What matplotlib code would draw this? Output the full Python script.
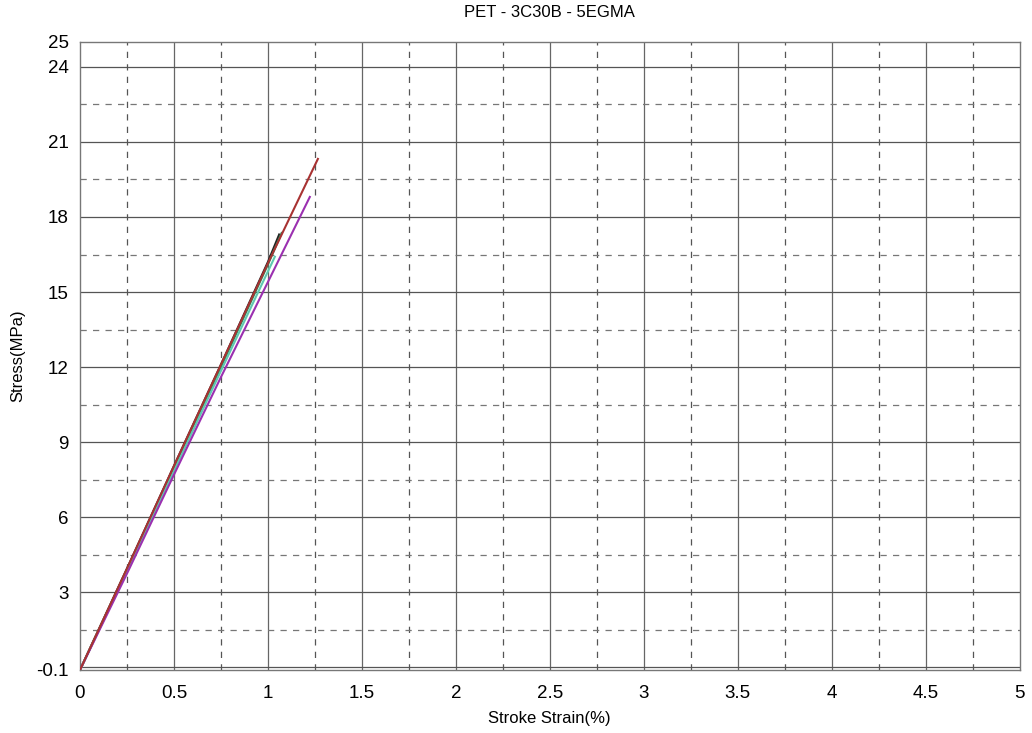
import numpy as np
import matplotlib
matplotlib.use("Agg")
import matplotlib.pyplot as plt

plt.rcParams['font.family'] = ['Liberation Sans', 'DejaVu Sans']

# strain (%) / stress (MPa) for each specimen
strain_rojo = [0.0, 0.25, 0.5, 0.75, 1.0, 1.266]
stress_rojo = [-0.1, 3.95, 8.05, 12.1, 16.15, 20.32]

strain_morado = [0.0, 0.25, 0.5, 0.75, 1.0, 1.223]
stress_morado = [-0.1, 3.75, 7.7, 11.6, 15.4, 18.8]

strain_verde = [0.0, 0.25, 0.5, 0.75, 1.0, 1.073]
stress_verde = [-0.1, 3.9, 8.0, 12.0, 16.1, 17.36]

strain_turquesa = [0.0, 0.25, 0.5, 0.75, 1.037]
stress_turquesa = [-0.1, 3.85, 7.85, 11.85, 16.41]

strain_negro = [0.0, 0.25, 0.5, 0.75, 1.0, 1.06]
stress_negro = [-0.1, 3.95, 8.05, 12.1, 16.2, 17.3]

x_ticks = [0, 0.5, 1, 1.5, 2, 2.5, 3, 3.5, 4, 4.5, 5]
y_ticks = [-0.1, 3, 6, 9, 12, 15, 18, 21, 24, 25]
y_ticklabels = ['-0.1', '3', '6', '9', '12', '15', '18', '21', '24', '25']

fig = plt.figure(figsize=(10.32, 7.33), dpi=100)
ax = fig.add_axes([0.0775, 0.086, 0.9105, 0.857])

# rejilla: continua en las divisiones principales, discontinua en las intermedias
for xv in np.arange(0.5, 5.0, 0.5):
    ax.axvline(xv, color='#666666', linewidth=0.9, zorder=1)
for xv in np.arange(0.25, 5.0, 0.5):
    ax.axvline(xv, color='#555555', linewidth=0.9, linestyle=(0, (5, 5)), zorder=1)
for yv in [0, 3, 6, 9, 12, 15, 18, 21, 24]:
    ax.axhline(yv, color='#555555', linewidth=0.9, zorder=1)
for yv in np.arange(1.5, 24, 3):
    ax.axhline(yv, color='#777777', linewidth=0.9, linestyle=(0, (5, 5)), zorder=1)

ax.plot(strain_negro, stress_negro, color='#222222', linewidth=1.5, zorder=3)
ax.plot(strain_verde, stress_verde, color='#2e8b57', linewidth=1.5, zorder=3)
ax.plot(strain_turquesa, stress_turquesa, color='#5fc8b0', linewidth=1.5, zorder=3)
ax.plot(strain_morado, stress_morado, color='#9b30b0', linewidth=1.5, zorder=3)
ax.plot(strain_rojo, stress_rojo, color='#a83232', linewidth=1.5, zorder=3)

ax.set_xlim(0, 5)
ax.set_ylim(-0.1, 25)
ax.set_xticks(x_ticks)
ax.set_xticklabels([f'{v:g}' for v in x_ticks])
ax.set_yticks(y_ticks)
ax.set_yticklabels(y_ticklabels)
ax.tick_params(length=0, labelsize=13.5, pad=8)
ax.tick_params(axis='x', pad=11)

for s in ax.spines.values():
    s.set_color('#777777')
    s.set_linewidth(1.0)

ax.set_title('PET - 3C30B - 5EGMA', fontsize=12, pad=18)
ax.set_xlabel('Stroke Strain(%)', fontsize=12, labelpad=6)
ax.set_ylabel('Stress(MPa)', fontsize=12, labelpad=8)

fig.savefig('out.png', dpi=100)
